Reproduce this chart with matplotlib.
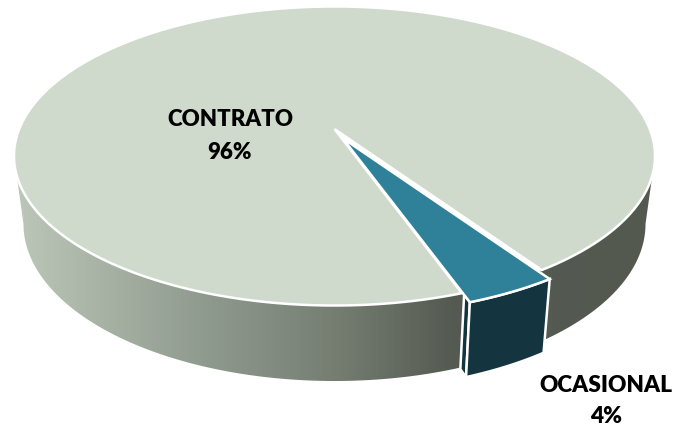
import matplotlib
matplotlib.use('Agg')
import matplotlib.pyplot as plt
import numpy as np
from matplotlib.colors import LinearSegmentedColormap
from matplotlib.patches import Polygon

# Data
labels = ['CONTRATO', 'OCASIONAL']
values = [96, 4]

W, H = 676, 431
start_deg = -56.0          # where CONTRATO starts, counter clockwise
persp = 0.18               # the disc centre sits above the ellipse centre

# top and bottom ellipses in pixels
top = dict(cx=334.5, cy=157, rx=320.5, ry=149.5)
bot = dict(cx=334.5, cy=225, rx=311, ry=157)
shift = np.array([8.0, 9.0])   # how far the small slice is pulled out

def project(deg, e):
    t = np.radians(deg)
    u, v = np.cos(t), np.sin(t)
    d = 1 + persp * v
    x = np.sqrt(1 - persp**2) * u / d
    y = (v + persp) / d
    return np.column_stack([e['cx'] + e['rx'] * x, e['cy'] - e['ry'] * y])

def apex(e):
    return np.array([e['cx'], e['cy'] - e['ry'] * persp])

def arc(a0, a1, e, n=200):
    return project(np.linspace(a0, a1, n), e)

sweep = [v / sum(values) * 360 for v in values]
main_a0 = start_deg
main_a1 = start_deg + sweep[0]
small_a0 = main_a1
small_a1 = main_a1 + sweep[1]

fig = plt.figure(figsize=(W / 100, H / 100), dpi=100)
ax = fig.add_axes([0, 0, 1, 1])

# side of the big slice with gradient, between the left and right extremes
ext = np.degrees(np.arcsin(persp))
side_top = arc(180 + ext, 360 - ext, top, 300)
side_bot = arc(360 - ext, 180 + ext, bot, 300)
side = Polygon(np.vstack([side_top, side_bot]), closed=True, fc='none', ec='none')
ax.add_patch(side)
cmap = LinearSegmentedColormap.from_list('side', [
    (0.0, '#bcc7b9'), (0.3, '#8f9a8e'), (0.5, '#767e72'),
    (0.68, '#555b52'), (1.0, '#53594f')])
img = ax.imshow(np.linspace(0, 1, 256).reshape(1, -1), cmap=cmap, aspect='auto',
                extent=[14, 655, 400, 100], zorder=1)
img.set_clip_path(side)

# top of the big slice
main_top = np.vstack([apex(top), arc(main_a0, main_a1, top, 500)])
ax.add_patch(Polygon(main_top, closed=True, fc='#cfd9cc', ec='white', lw=1.8, zorder=2))

# small slice, pulled out
corner_l = project(small_a0, top)[0] + shift
corner_bl = project(small_a0, bot)[0] + shift
small_apex = apex(top) + shift

# cut face on the left of the small slice
back = corner_l + (small_apex - corner_l) * 0.045
sliver = np.array([corner_l, corner_bl, back + (corner_bl - corner_l) + np.array([0, -0.5]), back])
ax.add_patch(Polygon(sliver, closed=True, fc='#143540', ec='white', lw=1.8, zorder=3))

# outer face
front = np.vstack([arc(small_a0, small_a1, top, 40) + shift,
                   arc(small_a1, small_a0, bot, 40) + shift])
ax.add_patch(Polygon(front, closed=True, fc='#143540', ec='white', lw=1.8, zorder=4))

# top of the small slice
small_top = np.vstack([small_apex, arc(small_a0, small_a1, top, 40) + shift])
ax.add_patch(Polygon(small_top, closed=True, fc='#2f8099', ec='white', lw=1.8, zorder=5))

# labels
ax.text(230, 136, f'{labels[0]}\n{values[0]}%', ha='center', va='center', family='Lato',
        fontweight='heavy', fontsize=16, color='black', linespacing=1.66, zorder=6)
ax.text(606, 401, f'{labels[1]}\n{values[1]}%', ha='center', va='center', family='Lato',
        fontweight='heavy', fontsize=16.3, color='black', linespacing=1.6, zorder=6)

ax.set_xlim(0, W)
ax.set_ylim(H, 0)
ax.axis('off')

plt.savefig('out.png', dpi=100)
